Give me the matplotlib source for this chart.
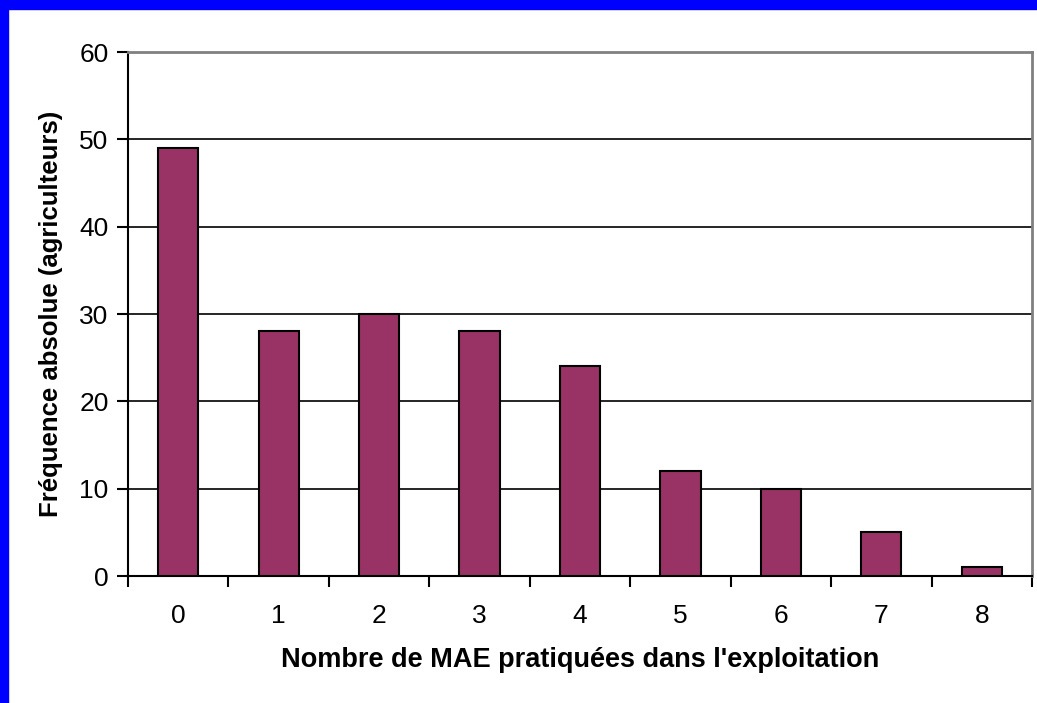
import matplotlib
matplotlib.use("Agg")
from matplotlib import pyplot as plt
from matplotlib.patches import Rectangle

# données
nb_mae = ["0", "1", "2", "3", "4", "5", "6", "7", "8"]
frequences = [49, 28, 30, 28, 24, 12, 10, 5, 1]
graduations_y = [0, 10, 20, 30, 40, 50, 60]

plt.rcParams['font.family'] = ['Liberation Sans', 'DejaVu Sans']

fig = plt.figure(figsize=(10.37, 7.03), dpi=100)
ax = fig.add_axes([128 / 1037, 1 - 576 / 703, (1032 - 128) / 1037, (576 - 52) / 703])

positions = list(range(len(nb_mae)))
ax.bar(positions, frequences, width=0.4, color="#993366", edgecolor="black", linewidth=1.5, zorder=3)

ax.set_xlim(-0.5, len(nb_mae) - 0.5)
ax.set_ylim(0, 60)
ax.set_yticks(graduations_y)
ax.set_yticklabels([str(v) for v in graduations_y], fontsize=19)
ax.set_xticks(positions)
ax.set_xticklabels(nb_mae, fontsize=19)
ax.set_xticks([p - 0.5 for p in positions] + [len(nb_mae) - 0.5], minor=True)
ax.tick_params(axis='x', which='major', length=0, pad=20)
ax.tick_params(axis='x', which='minor', length=8, width=1.5, direction='out')
ax.tick_params(axis='y', length=8, width=1.5, direction='out', pad=6)

# lignes horizontales noires
for v in graduations_y[1:-1]:
    ax.axhline(v, color="black", linewidth=1.2, zorder=1)

ax.spines['left'].set_linewidth(1.5)
ax.spines['bottom'].set_linewidth(1.5)
ax.spines['top'].set_color("#808080")
ax.spines['top'].set_linewidth(2)
ax.spines['right'].set_color("#808080")
ax.spines['right'].set_linewidth(2)

ax.set_xlabel("Nombre de MAE pratiquées dans l'exploitation", fontsize=19.5, fontweight='bold', labelpad=14)
ax.set_ylabel("Fréquence absolue (agriculteurs)", fontsize=18.5, fontweight='bold', labelpad=12)

# cadre bleu en haut et à gauche
fig.patches.append(Rectangle((0, 1 - 9 / 703), 1, 9 / 703, transform=fig.transFigure, color="#0000ff", zorder=0))
fig.patches.append(Rectangle((0, 0), 8 / 1037, 1, transform=fig.transFigure, color="#0000ff", zorder=0))

fig.savefig("out.png", dpi=100)
